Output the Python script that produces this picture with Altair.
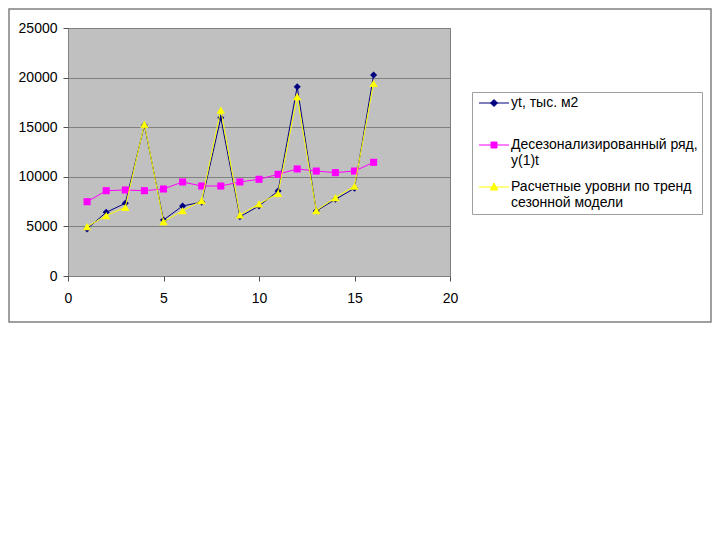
import altair as alt
import pandas as pd

t = list(range(1, 17))
yt = [4750, 6420, 7330, 15200, 5650, 7060, 7450, 15950, 5980, 7060, 8570, 19080, 6550, 7730, 8840, 20260]
deseason = [7490, 8600, 8670, 8600, 8770, 9480, 9070, 9070, 9480, 9750, 10250, 10790, 10580, 10420, 10580, 11460]
model = [4970, 6080, 6920, 15320, 5480, 6580, 7590, 16730, 6150, 7260, 8330, 18080, 6600, 7900, 9070, 19420]

names = ["yt, тыс. м2\n", "Десезонализированный ряд,\ny(1)t", "Расчетные уровни по тренд\nсезонной модели"]
colors = ["#000080", "#FF00FF", "#FFFF00"]
marker_shapes = ["diamond", "square", "triangle-up"]
marker_sizes = [50, 50, 70]
# legend symbols: short line with marker, unit = 5px (symbolSize 100)
legend_paths = [
    "M-0.8,0H5.2M2.2,-0.7L2.9,0L2.2,0.7L1.5,0Z",
    "M-0.8,0H5.2M1.6,-0.6H2.8V0.6H1.6Z",
    "M-0.8,0H5.2M2.2,-0.8L2.95,0.6H1.45Z",
]
x_ticks = [0, 5, 10, 15, 20]
y_ticks = [0, 5000, 10000, 15000, 20000, 25000]

rows = []
for name, vals in zip(names, [yt, deseason, model]):
    for ti, v in zip(t, vals):
        rows.append({"t": ti, "value": v, "series": name})
df = pd.DataFrame(rows)

FONT = "Liberation Sans"

xenc = alt.X("t:Q", scale=alt.Scale(domain=[0, 20], nice=False),
             axis=alt.Axis(values=x_ticks, title=None, grid=False, domain=False,
                           tickColor="#505050", tickSize=5, labelPadding=10,
                           labelFlush=False,
                           labelFont=FONT, labelFontSize=14, labelColor="black"))
yenc = alt.Y("value:Q", scale=alt.Scale(domain=[0, 25000], nice=False),
             axis=alt.Axis(values=y_ticks, title=None, grid=True, gridColor="#808080",
                           gridWidth=1, domain=False, tickColor="#505050", tickSize=5,
                           labelPadding=6, labelFlush=False, labelFont=FONT,
                           labelFontSize=14, labelColor="black", format="d"))

base = alt.Chart(df)

frame = alt.Chart(alt.Data(values=[{"a": 1}])).mark_rect(
    filled=False, stroke="#808080", strokeWidth=1.5
).encode(x=alt.value(-59), x2=alt.value(643), y=alt.value(-19), y2=alt.value(294))

layers = [frame]
for name, col, shp, sz in zip(names, colors, marker_shapes, marker_sizes):
    sub = base.transform_filter(alt.datum.series == name)
    layers.append(sub.mark_line(color=col, strokeWidth=1).encode(x=xenc, y=yenc))
    layers.append(sub.mark_point(shape=shp, size=sz, filled=True, color=col, opacity=1)
                  .encode(x=xenc, y=yenc))

leg = alt.Legend(orient="none", legendX=404, legendY=64, title=None,
                 fillColor="white", strokeColor="#A0A0A0", padding=4,
                 symbolSize=100, symbolStrokeWidth=1, labelFont=FONT,
                 labelFontSize=14, labelColor="black", labelLimit=300,
                 labelOffset=21, rowPadding=12,
                 labelExpr="split(datum.label, '\\n')")

legend_layer = base.transform_filter("datum.t < 0").mark_point(opacity=1).encode(
    x=xenc, y=yenc,
    fill=alt.Fill("series:N", scale=alt.Scale(domain=names, range=colors), legend=leg),
    stroke=alt.Stroke("series:N", scale=alt.Scale(domain=names, range=colors), legend=leg),
    shape=alt.Shape("series:N", scale=alt.Scale(domain=names, range=legend_paths), legend=leg),
)
layers.append(legend_layer)

chart = alt.layer(*layers).properties(
    width=382, height=248,
    autosize=alt.AutoSizeParams(type="none"),
    padding={"left": 60, "top": 20, "right": 262, "bottom": 60},
    background="white",
).configure_view(fill="#C0C0C0", stroke="#808080", strokeWidth=1)

chart.save("out.html", embed_options={"renderer": "svg", "actions": False})
